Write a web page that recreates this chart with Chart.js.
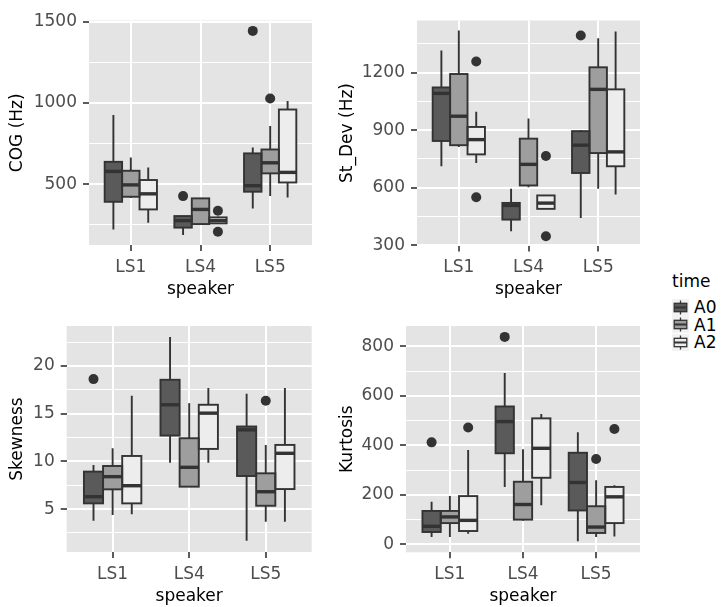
<!DOCTYPE html>
<html>
<head>
<meta charset="utf-8">
<script src="https://cdn.jsdelivr.net/npm/chart.js@4.4.1/dist/chart.umd.min.js"></script>
<style>
  html, body { margin: 0; padding: 0; background: #ffffff; }
  body { width: 725px; height: 607px; position: relative; overflow: hidden; font-family: "DejaVu Sans", sans-serif; }
  canvas.panel { position: absolute; }
  .lg { position: absolute; color: #000; font-size: 17px; line-height: 20px; white-space: nowrap; }
  canvas.key { position: absolute; }
</style>
</head>
<body>
<canvas class="panel" id="c1" width="330" height="300" style="left:0px;top:0px"></canvas>
<canvas class="panel" id="c2" width="330" height="300" style="left:330px;top:0px"></canvas>
<canvas class="panel" id="c3" width="330" height="307" style="left:0px;top:300px"></canvas>
<canvas class="panel" id="c4" width="330" height="307" style="left:330px;top:300px"></canvas>
<div id="legend"></div>
<script>
// ---------------- data ----------------
const speakers = ['LS1', 'LS4', 'LS5'];
const times = ['A0', 'A1', 'A2'];

// rows: A0, A1, A2 ; columns: LS1, LS4, LS5
const cogLow  = [[221, 186, 350], [415, 254, 426], [262, 258, 418]];
const cogQ1   = [[391, 232, 453], [422, 254, 566], [344, 258, 510]];
const cogMed  = [[578, 275, 490], [495, 344, 631], [440, 275, 572]];
const cogQ3   = [[637, 303, 689], [582, 412, 713], [525, 295, 959]];
const cogHigh = [[925, 305, 725], [664, 415, 857], [602, 300, 1012]];
const cogOut  = [[[], [426], [1443]], [[], [], [1027]], [[], [336, 207], []]];

const sdLow  = [[712, 373, 443], [813, 603, 595], [729, 490, 565]];
const sdQ1   = [[844, 434, 677], [822, 612, 781], [774, 490, 712]];
const sdMed  = [[1092, 508, 822], [973, 722, 1113], [851, 520, 787]];
const sdQ3   = [[1123, 521, 895], [1193, 856, 1228], [917, 560, 1113]];
const sdHigh = [[1315, 595, 900], [1420, 961, 1380], [996, 562, 1415]];
const sdOut  = [[[], [], [1394]], [[], [], []], [[1258, 551], [766, 347], []]];

const skewLow  = [[3.77, 9.87, 1.67], [4.37, 7.35, 3.67], [4.47, 9.87, 3.67]];
const skewQ1   = [[5.60, 12.71, 8.47], [7.07, 7.35, 5.35], [5.60, 11.31, 7.10]];
const skewMed  = [[6.30, 15.94, 13.31], [8.40, 9.38, 6.82], [7.45, 15.06, 10.85]];
const skewQ3   = [[8.93, 18.56, 13.66], [9.52, 12.43, 8.75], [10.57, 15.94, 11.73]];
const skewHigh = [[9.63, 23.05, 17.09], [11.38, 16.11, 11.73], [16.88, 17.69, 17.69]];
const skewOut  = [[[18.63], [], []], [[], [], [16.36]], [[], [], []]];

const kurtLow  = [[30, 232, 13], [30, 95, 30], [43, 158, 32]];
const kurtQ1   = [[50, 368, 137], [86, 100, 46], [54, 269, 86]];
const kurtMed  = [[73, 496, 250], [111, 161, 70], [97, 388, 192]];
const kurtQ3   = [[135, 557, 370], [135, 253, 154], [195, 509, 232]];
const kurtHigh = [[172, 692, 453], [195, 384, 259], [381, 527, 239]];
const kurtOut  = [[[412], [838], []], [[], [], [345]], [[472], [], [466]]];

// ---------------- style ----------------
const FONT = '"DejaVu Sans", sans-serif';
const FILLS = ['#5A5A5A', '#9E9E9E', '#EDEDED'];
const LINE = '#333333';
const PANEL_BG = '#E4E4E4';

const panels = [
  { id: 'c1', title: 'COG (Hz)', low: cogLow, q1: cogQ1, med: cogMed, q3: cogQ3, high: cogHigh, out: cogOut,
    yMin: 125, yMax: 1507, step: 250, major: 500, w: 330, h: 300, area: { left: 89, right: 312, top: 20.5, bottom: 245 } },
  { id: 'c2', title: 'St_Dev (Hz)', low: sdLow, q1: sdQ1, med: sdMed, q3: sdQ3, high: sdHigh, out: sdOut,
    yMin: 299, yMax: 1472, step: 150, major: 300, w: 330, h: 300, area: { left: 87, right: 310, top: 20.5, bottom: 245.5 } },
  { id: 'c3', title: 'Skewness', low: skewLow, q1: skewQ1, med: skewMed, q3: skewQ3, high: skewHigh, out: skewOut,
    yMin: 0.5, yMax: 24.2, step: 2.5, major: 5, w: 330, h: 307, area: { left: 66.7, right: 311.7, top: 26, bottom: 252 } },
  { id: 'c4', title: 'Kurtosis', low: kurtLow, q1: kurtQ1, med: kurtMed, q3: kurtQ3, high: kurtHigh, out: kurtOut,
    yMin: -32, yMax: 882, step: 100, major: 200, w: 330, h: 307, area: { left: 76, right: 310, top: 26, bottom: 252.3 } }
];

const boxPlugin = {
  id: 'ggbox',
  beforeDraw(chart) {
    const a = chart.chartArea, ctx = chart.ctx;
    ctx.save();
    ctx.fillStyle = PANEL_BG;
    ctx.fillRect(a.left, a.top, a.right - a.left, a.bottom - a.top);
    ctx.restore();
  },
  beforeDatasetsDraw(chart) {
    const y = chart.scales.y, ctx = chart.ctx;
    ctx.save();
    ctx.strokeStyle = LINE;
    ctx.lineWidth = 1.9;
    chart.data.datasets.forEach((ds, i) => {
      chart.getDatasetMeta(i).data.forEach((bar, j) => {
        const x = bar.x;
        ctx.beginPath();
        ctx.moveTo(x, y.getPixelForValue(ds.stats.high[j]));
        ctx.lineTo(x, y.getPixelForValue(ds.data[j].y[1]));
        ctx.moveTo(x, y.getPixelForValue(ds.data[j].y[0]));
        ctx.lineTo(x, y.getPixelForValue(ds.stats.low[j]));
        ctx.stroke();
      });
    });
    ctx.restore();
  },
  afterDatasetsDraw(chart) {
    const y = chart.scales.y, ctx = chart.ctx;
    ctx.save();
    chart.data.datasets.forEach((ds, i) => {
      chart.getDatasetMeta(i).data.forEach((bar, j) => {
        const x = bar.x, w = bar.width;
        const yt = y.getPixelForValue(ds.data[j].y[1]);
        const yb = y.getPixelForValue(ds.data[j].y[0]);
        ctx.strokeStyle = LINE;
        ctx.lineWidth = 1.9;
        ctx.strokeRect(x - w / 2, yt, w, yb - yt);
        const ym = y.getPixelForValue(ds.stats.med[j]);
        ctx.lineWidth = 3.4;
        ctx.beginPath();
        ctx.moveTo(x - w / 2, ym);
        ctx.lineTo(x + w / 2, ym);
        ctx.stroke();
        ctx.fillStyle = LINE;
        ds.stats.out[j].forEach(v => {
          ctx.beginPath();
          ctx.arc(x, y.getPixelForValue(v), 5, 0, Math.PI * 2);
          ctx.fill();
        });
      });
    });
    ctx.restore();
  }
};

function makeChart(p) {
  const isMajor = v => Math.abs(v / p.major - Math.round(v / p.major)) < 1e-6;
  const datasets = times.map((t, ti) => ({
    label: t,
    data: speakers.map((s, si) => ({ x: si + 1 + (ti - 1) * 0.25, y: [p.q1[ti][si], p.q3[ti][si]] })),
    backgroundColor: FILLS[ti],
    borderWidth: 0,
    grouped: false,
    categoryPercentage: 1,
    barPercentage: 1,
    stats: { low: p.low[ti], med: p.med[ti], high: p.high[ti], out: p.out[ti] }
  }));
  new Chart(document.getElementById(p.id), {
    type: 'bar',
    data: { datasets },
    options: {
      responsive: false,
      animation: false,
      events: [],
      layout: { padding: { left: 0, top: p.area.top, right: p.w - p.area.right, bottom: 0 } },
      plugins: { legend: { display: false }, tooltip: { enabled: false } },
      scales: {
        x: {
          type: 'linear', min: 0.4, max: 3.6, offset: false,
          grid: { offset: false, color: '#FFFFFF', lineWidth: 2, tickColor: LINE, tickLength: 6, tickWidth: 1.6 },
          border: { display: false },
          ticks: { stepSize: 1, includeBounds: false, autoSkip: false, maxRotation: 0, padding: 6,
                   color: '#4D4D4D', font: { family: FONT, size: 17 },
                   callback: v => speakers[Math.round(v) - 1] || '' },
          title: { display: true, text: 'speaker', color: '#000000', font: { family: FONT, size: 17 }, padding: { top: 0, bottom: 0 } },
          afterFit: s => { s.height = p.h - p.area.bottom; }
        },
        y: {
          type: 'linear', min: p.yMin, max: p.yMax,
          grid: {
            color: '#FFFFFF',
            lineWidth: c => (c.tick && isMajor(c.tick.value)) ? 2 : 1,
            tickColor: c => (c.tick && isMajor(c.tick.value)) ? LINE : 'rgba(0,0,0,0)',
            tickLength: 6, tickWidth: 1.6
          },
          border: { display: false },
          ticks: { stepSize: p.step, includeBounds: false, autoSkip: false, padding: 6,
                   color: '#4D4D4D', font: { family: FONT, size: 17 },
                   callback: v => isMajor(v) ? String(Math.round(v)) : '' },
          title: { display: true, text: p.title, color: '#000000', font: { family: FONT, size: 17 }, padding: { top: 7.5, bottom: 0 } },
          afterFit: s => { s.width = p.area.left; }
        }
      }
    },
    plugins: [boxPlugin]
  });
}
panels.forEach(makeChart);

// ---------------- legend ----------------
(function () {
  const lg = document.getElementById('legend');
  const title = document.createElement('div');
  title.className = 'lg';
  title.textContent = 'time';
  title.style.left = '672px';
  title.style.top = '271px';
  lg.appendChild(title);
  times.forEach((t, i) => {
    const cy = 307 + i * 17.5;
    const c = document.createElement('canvas');
    c.className = 'key';
    c.width = 17; c.height = 17;
    c.style.left = '672px';
    c.style.top = (cy - 8.5) + 'px';
    const k = c.getContext('2d');
    k.fillStyle = '#F2F2F2';
    k.fillRect(0, 0, 17, 17);
    k.strokeStyle = LINE;
    k.lineWidth = 1.3;
    k.beginPath(); k.moveTo(8.5, 1.5); k.lineTo(8.5, 15.5); k.stroke();
    k.fillStyle = FILLS[i];
    k.fillRect(2.2, 4.3, 12.6, 8.4);
    k.strokeRect(2.2, 4.3, 12.6, 8.4);
    k.lineWidth = 2;
    k.beginPath(); k.moveTo(2.2, 8.5); k.lineTo(14.8, 8.5); k.stroke();
    lg.appendChild(c);
    const lab = document.createElement('div');
    lab.className = 'lg';
    lab.textContent = t;
    lab.style.left = '694px';
    lab.style.top = (cy - 10) + 'px';
    lg.appendChild(lab);
  });
})();
</script>
</body>
</html>
